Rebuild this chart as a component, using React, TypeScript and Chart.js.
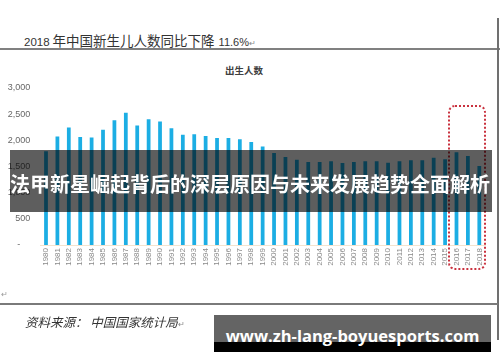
import React, { useEffect, useRef } from "react";
import { Chart, registerables } from "chart.js";

Chart.register(...registerables);

const years: string[] = [
  "1980", "1981", "1982", "1983", "1984", "1985", "1986", "1987", "1988", "1989",
  "1990", "1991", "1992", "1993", "1994", "1995", "1996", "1997", "1998", "1999",
  "2000", "2001", "2002", "2003", "2004", "2005", "2006", "2007", "2008", "2009",
  "2010", "2011", "2012", "2013", "2014", "2015", "2016", "2017", "2018",
];

const births: number[] = [
  1790, 2075, 2245, 2062, 2056, 2203, 2386, 2527, 2285, 2405,
  2360, 2233, 2108, 2114, 2082, 2044, 2044, 2019, 1970, 1884,
  1757, 1681, 1631, 1586, 1586, 1598, 1566, 1586, 1598, 1598,
  1574, 1598, 1618, 1618, 1669, 1637, 1770, 1700, 1510,
];

const yTicks: number[] = [0, 500, 1000, 1500, 2000, 2500, 3000];

const titleYear = "2018";
const titleMain = "年中国新生儿人数同比下降";
const titlePct = "11.6%";
const chartTitle = "出生人数";
const sourceText = "资料来源：  中国国家统计局";
const bannerText = "法甲新星崛起背后的深层原因与未来发展趋势全面解析";
const watermarkText = "www.zh-lang-boyuesports.com";

export default function App() {
  const canvasRef = useRef<HTMLCanvasElement | null>(null);

  useEffect(() => {
    if (!canvasRef.current) return;
    const chart = new Chart(canvasRef.current, {
      type: "bar",
      data: {
        labels: years,
        datasets: [
          {
            data: births,
            backgroundColor: "#1caee4",
            borderWidth: 0,
            categoryPercentage: 1,
            barPercentage: 0.33,
          },
        ],
      },
      options: {
        animation: false,
        responsive: false,
        maintainAspectRatio: false,
        layout: { padding: { left: 0, right: 15, top: 88, bottom: 92 } },
        plugins: {
          legend: { display: false },
          tooltip: { enabled: false },
          title: { display: false },
        },
        scales: {
          x: {
            grid: { display: false, drawTicks: false },
            border: { display: true, color: "#f3e3cf" },
            ticks: {
              autoSkip: false,
              minRotation: 90,
              maxRotation: 90,
              padding: 3,
              color: "#8a8a8a",
              font: { family: "'Liberation Sans', Arial, sans-serif", size: 8 },
            },
            afterFit: (axis: any) => {
              axis.height = 25;
            },
          },
          y: {
            min: 0,
            max: 3000,
            afterBuildTicks: (axis: any) => {
              axis.ticks = yTicks.map((v) => ({ value: v }));
            },
            grid: { display: false, drawTicks: false },
            border: { display: false },
            ticks: {
              padding: 10,
              color: "#666666",
              font: { family: "'Liberation Sans', Arial, sans-serif", size: 9 },
              callback: (v: any) => (Number(v) === 0 ? "-    " : Number(v).toLocaleString("en-US")),
            },
            afterFit: (axis: any) => {
              axis.width = 40.3;
            },
          },
        },
      },
    });
    return () => chart.destroy();
  }, []);

  const latin = "'Liberation Sans', Arial, sans-serif";
  const cjk = "'Noto Sans CJK SC', sans-serif";

  return (
    <div
      style={{
        position: "absolute",
        left: 0,
        top: 0,
        width: 500,
        height: 362,
        background: "#ffffff",
        overflow: "hidden",
        fontFamily: cjk,
      }}
    >
      <div style={{ position: "absolute", left: 24, top: 30, height: 18, lineHeight: "18px", color: "#333", whiteSpace: "nowrap" }}>
        <span style={{ fontFamily: latin, fontSize: 11.5 }}>{titleYear}</span>
        <span style={{ fontFamily: cjk, fontSize: 13.5, marginLeft: 3 }}>{titleMain}</span>
        <span style={{ fontFamily: latin, fontSize: 11, marginLeft: 4 }}>{titlePct}</span>
        <span style={{ fontSize: 8, color: "#888" }}>↵</span>
      </div>
      <div style={{ position: "absolute", left: 0, top: 48, width: 500, height: 1.5, background: "#808080" }} />
      <div style={{ position: "absolute", left: 497, top: 18, width: 1.5, height: 322, background: "#707070" }} />
      <div
        style={{
          position: "absolute",
          left: 194,
          width: 100,
          top: 63,
          textAlign: "center",
          fontSize: 9.5,
          lineHeight: "14px",
          fontWeight: "bold",
          color: "#404040",
          fontFamily: cjk,
        }}
      >
        {chartTitle}
      </div>
      <canvas ref={canvasRef} width={500} height={362} style={{ position: "absolute", left: 0, top: 0, width: 500, height: 362 }} />
      <div
        style={{
          position: "absolute",
          left: 448,
          top: 105,
          width: 34,
          height: 161,
          border: "2px dotted #c9323f",
          borderRadius: 7,
        }}
      />
      <div style={{ position: "absolute", left: 10, top: 150, width: 482, height: 62, background: "rgba(0,0,0,0.63)" }} />
      <div
        style={{
          position: "absolute",
          left: 10,
          top: 170,
          fontSize: 20,
          lineHeight: "28px",
          fontWeight: "bold",
          color: "#ffffff",
          whiteSpace: "nowrap",
          fontFamily: cjk,
        }}
      >
        {bannerText}
      </div>
      <div style={{ position: "absolute", left: 0, top: 303, width: 498, height: 1.5, background: "#7a7a7a" }} />
      <div style={{ position: "absolute", left: 1, top: 288, fontSize: 8, color: "#999" }}>↵</div>
      <div
        style={{
          position: "absolute",
          left: 25,
          top: 313,
          fontSize: 12.5,
          lineHeight: "18px",
          fontStyle: "italic",
          color: "#333",
          whiteSpace: "nowrap",
          fontFamily: cjk,
        }}
      >
        {sourceText}
        <span style={{ fontSize: 8, color: "#888", fontStyle: "normal" }}>↵</span>
      </div>
      <div style={{ position: "absolute", left: 214, top: 315, width: 277, height: 37, background: "#646464" }} />
      <div style={{ position: "absolute", left: 214, top: 342, width: 277, height: 10, background: "#000000" }} />
      <div
        style={{
          position: "absolute",
          left: 214,
          width: 277,
          top: 326,
          textAlign: "center",
          fontSize: 16.5,
          lineHeight: "20px",
          fontWeight: "bold",
          color: "#ffffff",
          whiteSpace: "nowrap",
          fontFamily: "'Open Sans', 'DejaVu Sans', sans-serif",
        }}
      >
        {watermarkText}
      </div>
    </div>
  );
}
